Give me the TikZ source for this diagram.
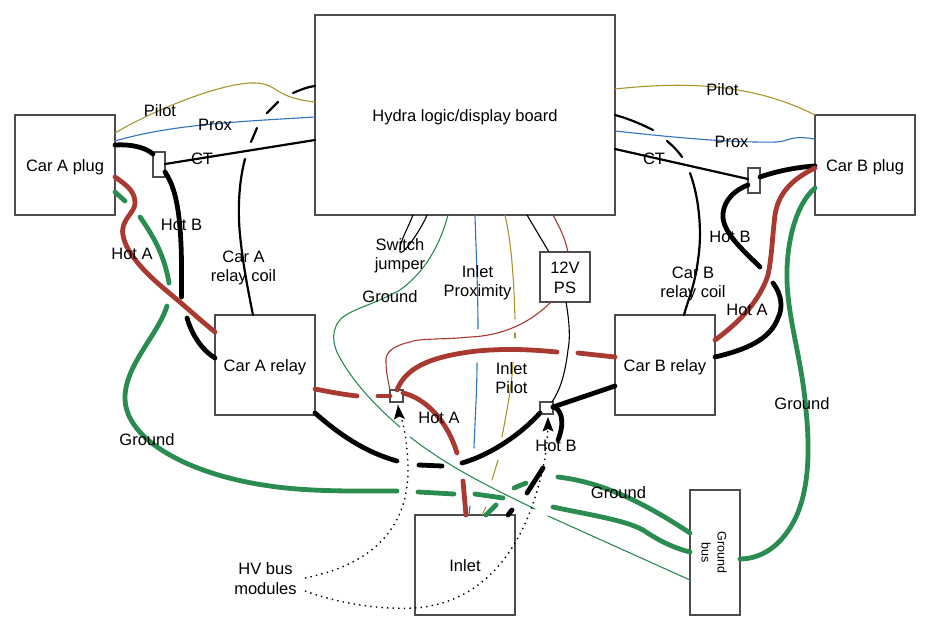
\documentclass[tikz,border=0pt]{standalone}
\usepackage{fontspec}
\setmainfont{Liberation Sans}
\usetikzlibrary{arrows.meta}
\definecolor{wred}{HTML}{A93A32}
\definecolor{wgreen}{HTML}{2A8C50}
\definecolor{wblue}{HTML}{2F74C0}
\definecolor{wgold}{HTML}{A8952F}
\definecolor{edge}{HTML}{4D4D4D}
\tikzset{
  box/.style={draw=edge,line width=1.6pt,fill=white,inner sep=0pt,outer sep=0pt,align=center,minimum width=#1},
  box/.default=100pt,
  lab/.style={font=\fontsize{16.5}{19.5}\selectfont,align=center,inner sep=0pt,text=black},
  wire/.style={line cap=round,line join=round},
  heavy/.style={wire,line width=4.8pt},
  coil/.style={wire,line width=2.2pt},
  hair/.style={wire,line width=1.1pt},
  dots/.style={line width=1.4pt,dash pattern=on 1.4pt off 4.2pt},
  head/.style={fill=black,draw=none},
}
\begin{document}
\begin{tikzpicture}[x=1pt,y=-1pt]
\useasboundingbox[fill=white] (0,0) rectangle (930,630);
% boxes
\node[box,minimum height=200pt,minimum width=300pt] (hydra) at (465,115) {};
\node[box,minimum height=100pt] (plugA) at (65,165) {};
\node[box,minimum height=100pt] (plugB) at (865,165) {};
\node[box,minimum height=100pt] (relayA) at (265,365) {};
\node[box,minimum height=100pt] (relayB) at (665,365) {};
\node[box=50pt,minimum height=50pt] (ps) at (565,277) {};
\node[box,minimum height=100pt] (inlet) at (465,565) {};
\node[box=50pt,minimum height=125pt] (gbus) at (715,552.5) {};
\node[box=12pt,minimum height=25pt] (ctA) at (159,164.5) {};
\node[box=12pt,minimum height=25pt] (ctB) at (754,180.5) {};
\node[box=13pt,minimum height=12pt] (busA) at (396.5,396) {};
\node[box=13pt,minimum height=12pt] (busB) at (546.5,408) {};
% named free ends at line jumps
\coordinate (coilA1) at (293,93); \coordinate (coilA2) at (278,102);
\coordinate (coilA3) at (267,113); \coordinate (coilA4) at (257,128);
\coordinate (coilA5) at (251,142); \coordinate (coilA6) at (245,159);
\coordinate (coilB1) at (653,130); \coordinate (coilB2) at (667,141);
\coordinate (coilB3) at (682,157); \coordinate (coilB4) at (690,173);
\coordinate (hbA1) at (181.5,297); \coordinate (hbA2) at (187,318);
\coordinate (hbB1) at (760,267); \coordinate (hbB2) at (773,283);
\coordinate (gA1) at (125,201); \coordinate (gA2) at (140,217);
\coordinate (gA3) at (169,283); \coordinate (gA4) at (167,306);
\coordinate (gA5) at (397,491); \coordinate (gA6) at (418,492);
\coordinate (gA7) at (454,494); \coordinate (gA8) at (475,494);
\coordinate (gA9) at (503,498);
\coordinate (gI1) at (496,505); \coordinate (gI2) at (514,488);
\coordinate (gI3) at (526,483); \coordinate (gI4) at (558,477);
\coordinate (gJ1) at (553,507);
\coordinate (tg1) at (400,427); \coordinate (tg2) at (410,437);
\coordinate (tg3) at (535,509); \coordinate (tg4) at (548,516);
\coordinate (pr1) at (478,329); \coordinate (pr2) at (477,363);
\coordinate (pr3) at (474,448); \coordinate (pr4) at (470,506);
\coordinate (pi1) at (515,319); \coordinate (pi2) at (515,333);
\coordinate (pi3) at (515,338); \coordinate (pi4) at (513,362);
\coordinate (pi5) at (502,437); \coordinate (pi6) at (498,460);
\coordinate (pi7) at (492,480); \coordinate (pi8) at (486,507);
\coordinate (rB1) at (557,352); \coordinate (rB2) at (578,353);
\coordinate (rA1) at (357,396); \coordinate (rA2) at (378,396);
\coordinate (rA3) at (457,453); \coordinate (rA4) at (463,481);
\coordinate (kA1) at (397,461); \coordinate (kA2) at (419,465);
\coordinate (kA3) at (442,466); \coordinate (kA4) at (462,463);
\coordinate (kB1) at (558,440); \coordinate (kB2) at (543,468);
\coordinate (kB3) at (527,493); \coordinate (kB4) at (512,510);
\coordinate (dotA) at (305,578); \coordinate (dotB) at (305,591);
\coordinate (tipA) at (398,405); \coordinate (tipB) at (548,417);
% thin signal wires
\draw[hair,wgold] (plugA.east|-0,133) .. controls (150,112) and (215,85) .. (250,83) .. controls (280,82) and (270,97) .. (hydra.west|-0,102);
\draw[hair,wblue] (plugA.east|-0,141) .. controls (170,125) and (230,122) .. (hydra.west|-0,117);
\draw[hair,wgold] (hydra.east|-0,89) .. controls (680,82) and (750,82) .. (plugB.west|-0,115);
\draw[hair,wblue] (hydra.east|-0,131) .. controls (670,137) and (730,143) .. (777,142) .. controls (790,141) and (790,135) .. (plugB.west|-0,139);
\draw[coil] (ctA.east|-0,164) -- (hydra.west|-0,140);
\draw[coil] (hydra.east|-0,149) -- (ctB.west|-0,179);
% coils
\draw[coil] (hydra.west|-0,86) .. controls (307,87) and (300,90) .. (coilA1);
\draw[coil] (coilA2) -- (coilA3);
\draw[coil] (coilA4) -- (coilA5);
\draw[coil] (coilA6) .. controls (238,185) and (238,215) .. (240,235) .. controls (243,265) and (248,290) .. (relayA.north-|253,0);
\draw[coil] (hydra.east|-0,115) .. controls (630,119) and (643,125) .. (coilB1);
\draw[coil] (coilB2) .. controls (673,146) and (678,151) .. (coilB3);
\draw[coil] (coilB4) .. controls (700,200) and (702,235) .. (698,260) .. controls (695,285) and (688,300) .. (relayB.north-|684,0);
% switch jumper, hydra-ps
\draw[hair] (hydra.south-|413,0) .. controls (408,228) and (398,245) .. (400,252) .. controls (403,256) and (422,228) .. (hydra.south-|427,0);
\draw[hair] (hydra.south-|527,0) -- (ps.north-|549,0);
\draw[hair,wred] (hydra.south-|553,0) .. controls (560,228) and (565,238) .. (ps.north-|568,0);
\draw[hair,wred] (ps.south-|551,0) .. controls (525,328) and (495,336) .. (470,337) .. controls (440,340) and (420,338) .. (410,342) .. controls (393,346) and (385,352) .. (386,362) .. controls (386,372) and (388,380) .. (busA.north-|390,0);
\draw[hair] (ps.south-|566,0) .. controls (570,325) and (570,340) .. (568,350) .. controls (565,375) and (560,390) .. (busB.north-|552,0);
% ground hairline
\draw[hair,wgreen] (hydra.south-|448,0) .. controls (440,245) and (425,272) .. (400,290) .. controls (375,304) and (355,308) .. (343,317) .. controls (330,328) and (332,345) .. (340,358) .. controls (355,385) and (380,410) .. (tg1);
\draw[hair,wgreen] (tg2) .. controls (450,468) and (490,487) .. (tg3);
\draw[hair,wgreen] (tg4) -- (gbus.west|-0,580);
% inlet proximity
\draw[hair,wblue] (hydra.south-|475,0) .. controls (476,250) and (478,290) .. (pr1);
\draw[hair,wblue] (pr2) .. controls (477,390) and (475,420) .. (pr3);
\draw[hair,wblue] (pr4) -- (inlet.north-|469,0);
% inlet pilot
\draw[hair,wgold] (hydra.south-|505,0) .. controls (512,245) and (514,285) .. (pi1);
\draw[hair,wgold] (pi2) -- (pi3);
\draw[hair,wgold] (pi4) .. controls (512,385) and (507,410) .. (pi5);
\draw[hair,wgold] (pi6) -- (pi7);
\draw[hair,wgold] (pi8) -- (inlet.north-|482,0);
% heavy wires: car A
\draw[heavy] (plugA.east|-0,145) .. controls (130,144) and (145,147) .. (ctA.west|-0,154);
\draw[heavy] (ctA.east|-0,172) .. controls (181,195) and (182,240) .. (hbA1);
\draw[heavy] (hbA2) .. controls (192,335) and (202,350) .. (relayA.west|-0,358);
\draw[heavy,wred] (plugA.east|-0,177) .. controls (128,186) and (135,192) .. (135,203) .. controls (135,213) and (120,220) .. (123,235) .. controls (126,255) and (150,277) .. (168,292) .. controls (185,306) and (200,320) .. (relayA.west|-0,332);
\draw[heavy,wgreen] (plugA.east|-0,192) -- (gA1);
\draw[heavy,wgreen] (gA2) .. controls (155,238) and (165,258) .. (gA3);
\draw[heavy,wgreen] (gA4) .. controls (158,335) and (125,365) .. (125,398) .. controls (125,440) and (190,475) .. (270,486) .. controls (310,492) and (360,491) .. (gA5);
\draw[heavy,wgreen] (gA6) -- (gA7);
\draw[heavy,wgreen] (gA8) -- (gA9);
\draw[heavy,wgreen] (inlet.north-|486,0) -- (gI1);
\draw[heavy,wgreen] (gI2) -- (gI3);
\draw[heavy,wgreen] (gI4) .. controls (600,482) and (640,500) .. (gbus.west|-0,533);
\draw[heavy,wgreen] (gJ1) .. controls (590,515) and (625,520) .. (643,530) .. controls (655,538) and (670,547) .. (gbus.west|-0,552);
% relay outputs
\draw[heavy,wred] (relayA.east|-0,389) .. controls (325,391) and (340,394) .. (rA1);
\draw[heavy,wred] (rA2) -- (busA.west|-0,396);
\draw[heavy,wred] (busA.east|-0,393) .. controls (425,398) and (447,420) .. (rA3);
\draw[heavy,wred] (rA4) -- (inlet.north-|466,0);
\draw[heavy,wred] (busA.north-|397,0) .. controls (405,370) and (425,357) .. (477,351) .. controls (510,348) and (535,350) .. (rB1);
\draw[heavy,wred] (rB2) -- (relayB.west|-0,357);
\draw[heavy] (relayA.east|-0,413) .. controls (340,435) and (365,452) .. (kA1);
\draw[heavy] (kA2) -- (kA3);
\draw[heavy] (kA4) .. controls (490,455) and (520,435) .. (busB.west|-0,413);
\draw[heavy] (relayB.west|-0,386) -- (busB.east|-0,407);
\draw[heavy] (busB.east|-0,407) .. controls (560,408) and (566,420) .. (kB1);
\draw[heavy] (kB2) -- (kB3);
\draw[heavy] (kB4) -- (inlet.north-|508,0);
% heavy wires: car B
\draw[heavy] (ctB.east|-0,177) .. controls (780,170) and (800,167) .. (plugB.west|-0,166);
\draw[heavy] (ctB.west|-0,185) .. controls (730,192) and (722,205) .. (723,218) .. controls (725,235) and (745,252) .. (hbB1);
\draw[heavy] (hbB2) .. controls (782,295) and (783,308) .. (778,318) .. controls (770,340) and (745,350) .. (relayB.east|-0,357);
\draw[heavy,wred] (plugB.west|-0,168) .. controls (790,180) and (778,195) .. (775,215) .. controls (772,240) and (772,255) .. (768,275) .. controls (760,300) and (740,322) .. (relayB.east|-0,340);
\draw[heavy,wgreen] (plugB.west|-0,188) .. controls (795,205) and (786,245) .. (787,280) .. controls (788,320) and (802,360) .. (806,410) .. controls (812,470) and (805,510) .. (785,535) .. controls (772,552) and (755,559) .. (gbus.east|-0,559);
% dotted leaders (arrowheads drawn as filled darts at their ends)
\draw[dots] (dotA) .. controls (370,565) and (408,530) .. (408,470) .. controls (408,445) and (404,425) .. (tipA);
\draw[dots] (dotB) .. controls (335,602) and (375,610) .. (415,608) .. controls (490,602) and (525,540) .. (540,480) .. controls (548,450) and (548,430) .. (tipB);
\fill[head] (tipA) -- ++(7,14) -- ++(-5.5,-2.5) -- ++(-5.5,3) -- cycle;
\fill[head] (tipB) -- ++(5.5,14.5) -- ++(-5.5,-2.5) -- ++(-5.5,2.5) -- cycle;
% labels
\node[lab] (tHydra) at (465,117) {Hydra logic/display board};
\node[lab] (tPlugA) at (65,167) {Car A plug};
\node[lab] (tPlugB) at (865,167) {Car B plug};
\node[lab] (tRelayA) at (265,367) {Car A relay};
\node[lab] (tRelayB) at (665,367) {Car B relay};
\node[lab] (tPS) at (565,278) {12V\\PS};
\node[lab] (tInlet) at (465,565.5) {Inlet};
\node[lab,font=\fontsize{12.5}{16}\selectfont,rotate=-90] (tBus) at (714,552.5) {Ground\\bus};
\node[lab] at (160,110.5) {Pilot};
\node[lab] at (215,124.5) {Prox};
\node[lab] at (202,158.5) {CT};
\node[lab] at (181.5,224.5) {Hot B};
\node[lab] at (132,253.5) {Hot A};
\node[lab] at (243.5,268) {Car A\\relay coil};
\node[lab] at (722.5,89.5) {Pilot};
\node[lab] at (731.5,141.5) {Prox};
\node[lab] at (654,158.5) {CT};
\node[lab] at (730,236.5) {Hot B};
\node[lab] at (693,284) {Car B\\relay coil};
\node[lab] at (747,309.5) {Hot A};
\node[lab] at (400,255.5) {Switch\\jumper};
\node[lab] at (390,296.5) {Ground};
\node[lab] at (477.5,282.5) {Inlet\\Proximity};
\node[lab] at (511.5,378) {Inlet\\Pilot};
\node[lab] at (439,417.5) {Hot A};
\node[lab] at (556,445.5) {Hot B};
\node[lab] at (618.5,492.5) {Ground};
\node[lab] at (147,439.5) {Ground};
\node[lab] at (802,403.5) {Ground};
\node[lab] (tHV) at (265.5,578.5) {HV bus\\modules};
\end{tikzpicture}
\end{document}
